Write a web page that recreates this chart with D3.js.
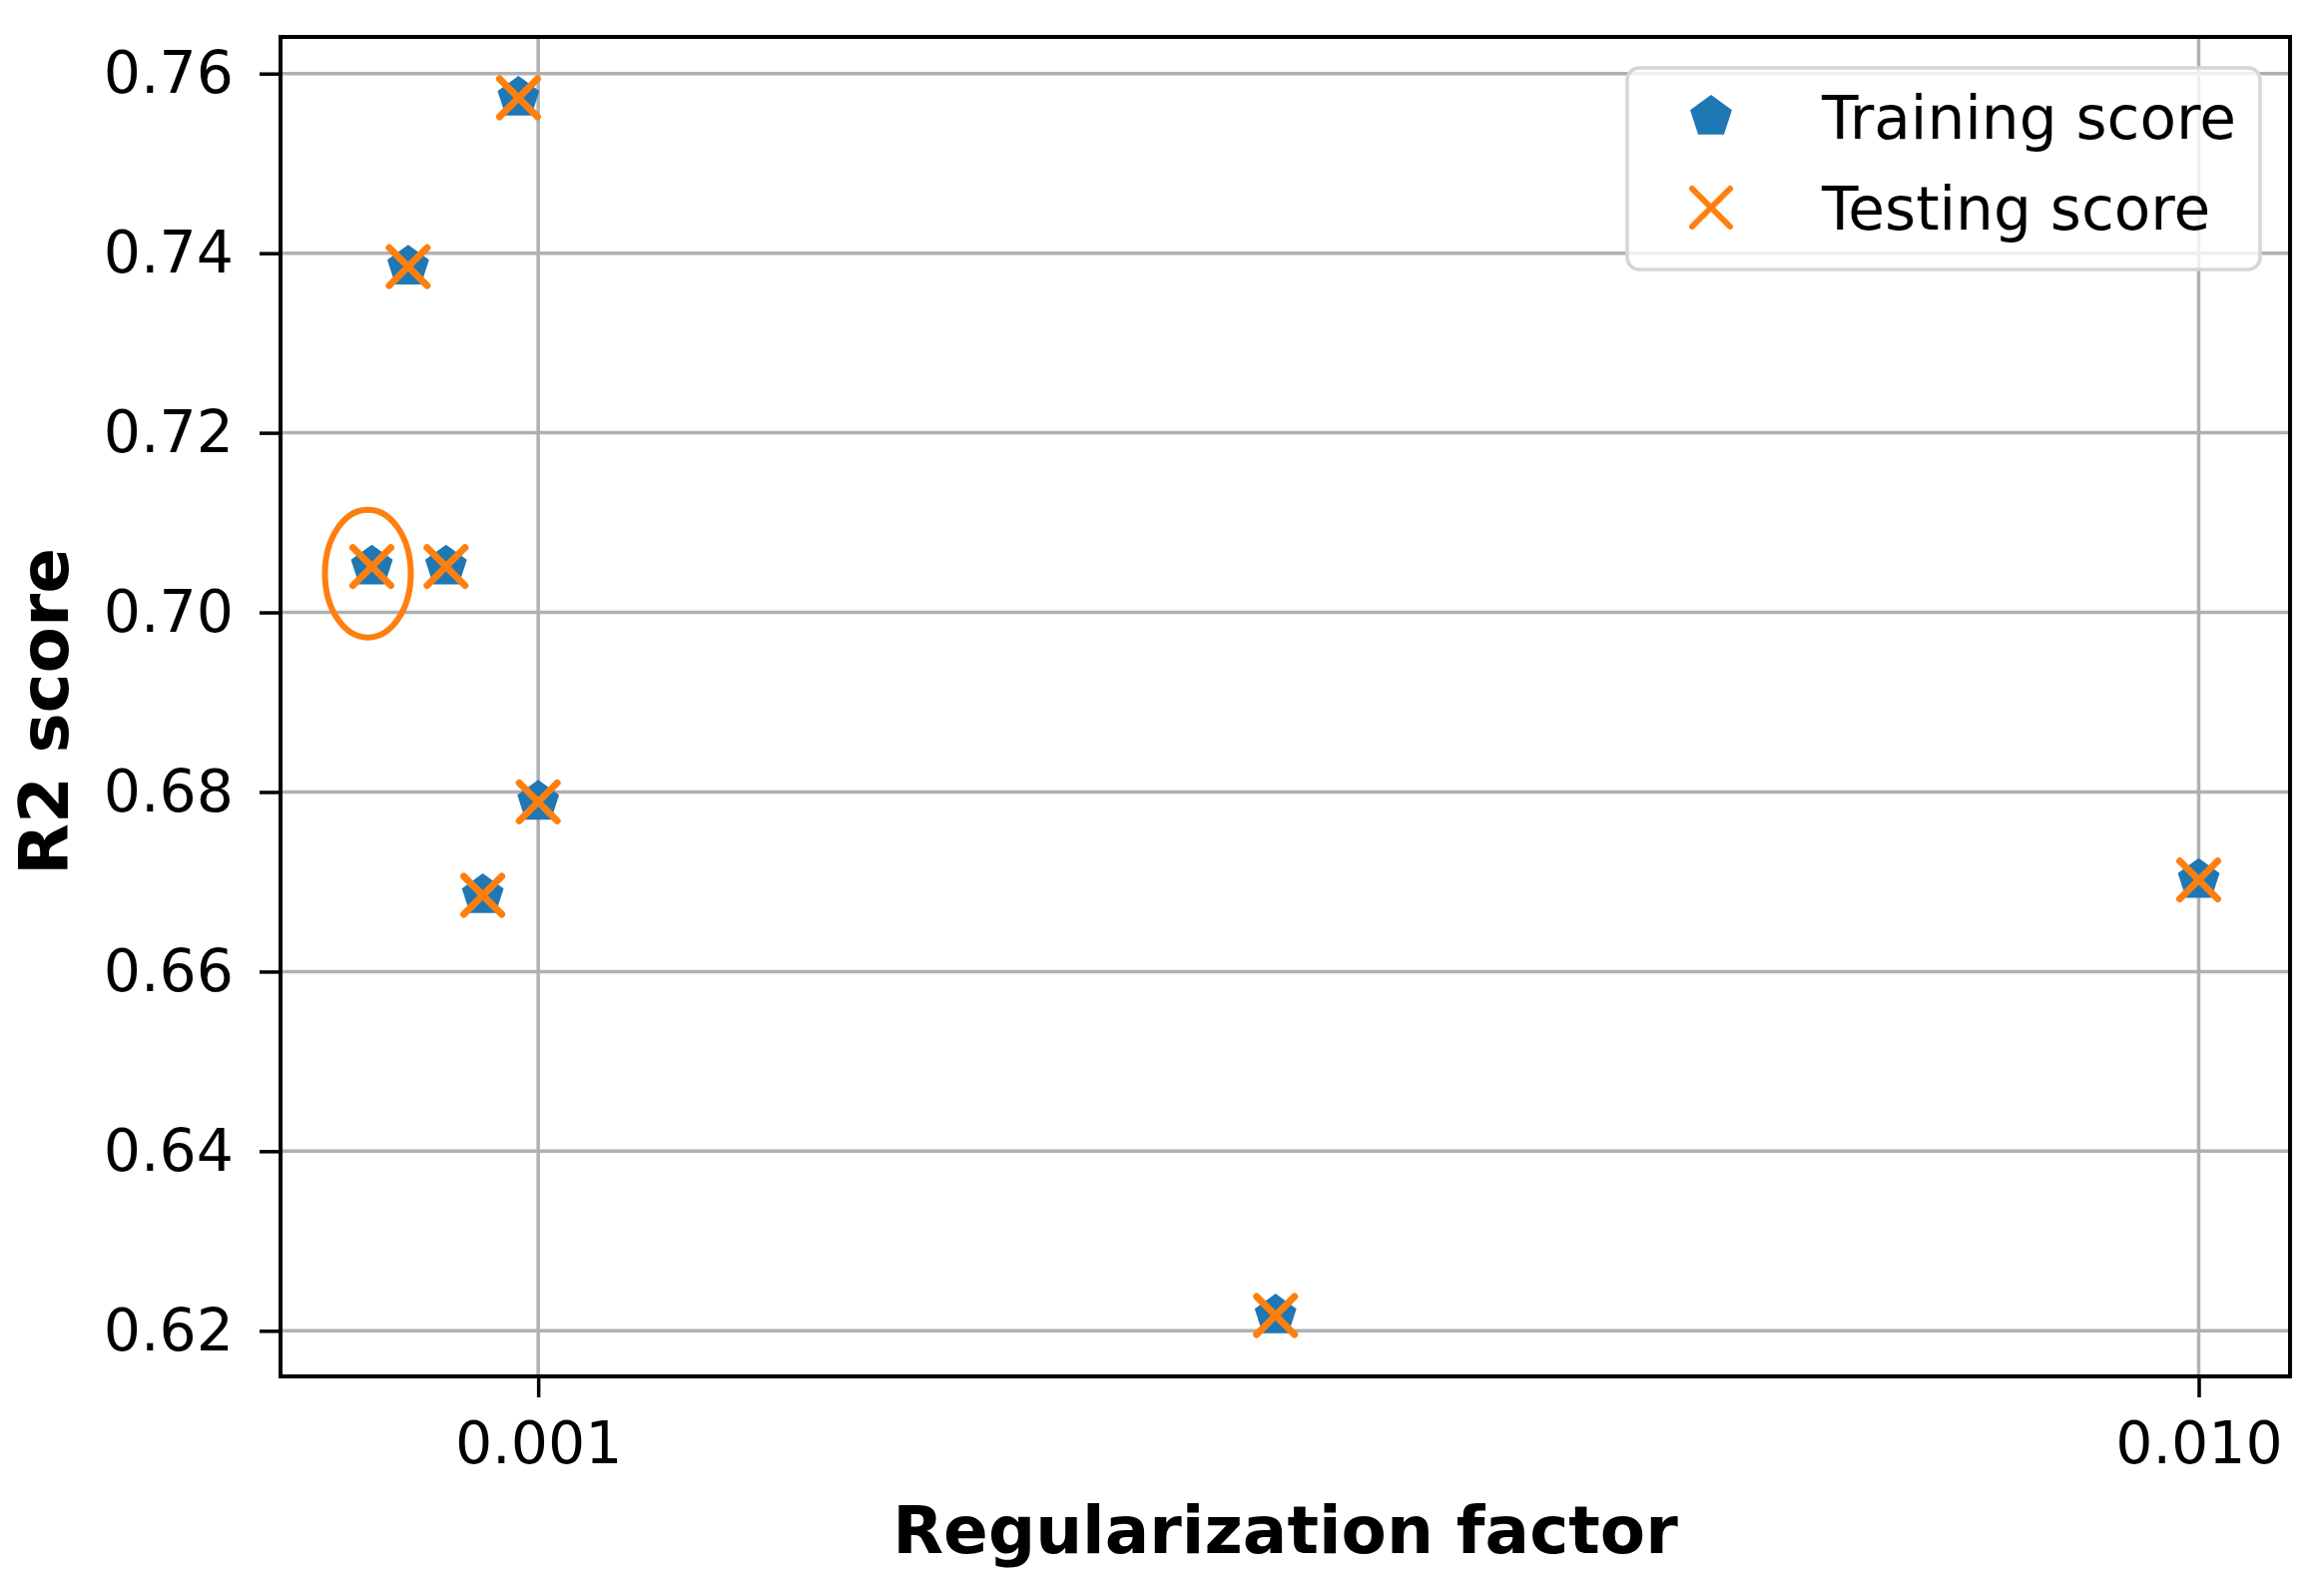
<!DOCTYPE html>
<html>
<head>
<meta charset="utf-8">
<script src="https://cdn.jsdelivr.net/npm/d3@7"></script>
<style>
  html, body { margin: 0; padding: 0; background: #ffffff; }
  svg { display: block; }
  text { font-family: "DejaVu Sans", sans-serif; fill: #000; }
</style>
</head>
<body>
<svg id="chart" width="2328" height="1591"></svg>
<script>
// ---- data ----
const regFactors    = [0.000794, 0.000835, 0.00088, 0.000926, 0.000973, 0.001, 0.00278, 0.01];
const trainingScore = [0.7051, 0.7385, 0.7051, 0.6685, 0.7573, 0.6789, 0.6217, 0.6702];
const testingScore  = [0.7051, 0.7385, 0.7051, 0.6685, 0.7573, 0.6789, 0.6217, 0.6702];
const yTicks = [0.62, 0.64, 0.66, 0.68, 0.70, 0.72, 0.74, 0.76];
const xTicks = [0.001, 0.01];
const xTickLabels = ["0.001", "0.010"];
const seriesNames = ["Training score", "Testing score"];
const highlightIndex = 0;

// ---- layout ----
const W = 2328, H = 1591;
const plot = { left: 281, right: 2294, top: 37, bottom: 1379 };
const blue = "#1f77b4", orange = "#ff7f0e";

const svg = d3.select("#chart");

// matplotlib-like 5% margins
const allY = trainingScore.concat(testingScore);
const yMin = d3.min(allY), yMax = d3.max(allY);
const yPad = (yMax - yMin) * 0.05;
const lxMin = Math.log10(d3.min(regFactors)), lxMax = Math.log10(d3.max(regFactors));
const xPad = (lxMax - lxMin) * 0.05;

const x = d3.scaleLog()
  .domain([Math.pow(10, lxMin - xPad), Math.pow(10, lxMax + xPad)])
  .range([plot.left, plot.right]);
const y = d3.scaleLinear()
  .domain([yMin - yPad, yMax + yPad])
  .range([plot.bottom, plot.top]);

// ---- grid ----
const grid = svg.append("g");
grid.selectAll("line.gy").data(yTicks).enter().append("line")
  .attr("x1", plot.left).attr("x2", plot.right)
  .attr("y1", d => y(d)).attr("y2", d => y(d))
  .attr("stroke", "#b0b0b0").attr("stroke-width", 3.5);
grid.selectAll("line.gx").data(xTicks).enter().append("line")
  .attr("y1", plot.top).attr("y2", plot.bottom)
  .attr("x1", d => x(d)).attr("x2", d => x(d))
  .attr("stroke", "#b0b0b0").attr("stroke-width", 3.5);

// ---- axes ----
const yAxis = d3.axisLeft(y).tickValues(yTicks).tickFormat(d3.format(".2f"))
  .tickSize(21).tickPadding(26);
const xAxis = d3.axisBottom(x).tickValues(xTicks)
  .tickFormat((d, i) => xTickLabels[i]).tickSize(21).tickPadding(24);

const gy = svg.append("g").attr("transform", `translate(${plot.left},0)`).call(yAxis);
const gx = svg.append("g").attr("transform", `translate(0,${plot.bottom})`).call(xAxis);
[gx, gy].forEach(g => {
  g.select(".domain").remove();
  g.selectAll(".tick line").attr("stroke", "#000").attr("stroke-width", 3.5);
  g.selectAll(".tick text").style("font-family", "DejaVu Sans").style("font-size", "58.5px").attr("fill", "#000");
});

// ---- markers ----
function pentagonPath(R) {
  const pts = [];
  for (let k = 0; k < 5; k++) {
    const a = -Math.PI / 2 + k * 2 * Math.PI / 5;
    pts.push([R * Math.cos(a), R * Math.sin(a)]);
  }
  return "M" + pts.map(p => p[0].toFixed(2) + "," + p[1].toFixed(2)).join("L") + "Z";
}
const pent = pentagonPath(22);
const xs = 19;
const crossPath = `M${-xs},${-xs}L${xs},${xs}M${-xs},${xs}L${xs},${-xs}`;

const pts = svg.append("g");
pts.selectAll("path.train").data(regFactors).enter().append("path")
  .attr("d", pent)
  .attr("transform", (d, i) => `translate(${x(d)},${y(trainingScore[i])})`)
  .attr("fill", blue);
pts.selectAll("path.test").data(regFactors).enter().append("path")
  .attr("d", crossPath)
  .attr("transform", (d, i) => `translate(${x(d)},${y(testingScore[i])})`)
  .attr("fill", "none").attr("stroke", orange).attr("stroke-width", 7).attr("stroke-linecap", "round");

// highlight ellipse
svg.append("ellipse")
  .attr("cx", x(regFactors[highlightIndex]) - 4)
  .attr("cy", y(trainingScore[highlightIndex]) + 7)
  .attr("rx", 43).attr("ry", 64)
  .attr("fill", "none").attr("stroke", orange).attr("stroke-width", 6);

// ---- spines ----
svg.append("rect")
  .attr("x", plot.left).attr("y", plot.top)
  .attr("width", plot.right - plot.left).attr("height", plot.bottom - plot.top)
  .attr("fill", "none").attr("stroke", "#000").attr("stroke-width", 4);

// ---- legend ----
const lg = svg.append("g").attr("transform", "translate(1630,68)");
lg.append("rect").attr("x", 0).attr("y", 0).attr("width", 634).attr("height", 202)
  .attr("rx", 12).attr("ry", 12)
  .attr("fill", "#ffffff").attr("fill-opacity", 0.8)
  .attr("stroke", "#d6d6d6").attr("stroke-width", 3.5);
const rowY = [49, 140];
lg.append("path").attr("d", pent).attr("transform", `translate(84,${rowY[0]})`).attr("fill", blue);
lg.append("path").attr("d", crossPath).attr("transform", `translate(84,${rowY[1]})`)
  .attr("fill", "none").attr("stroke", orange).attr("stroke-width", 6).attr("stroke-linecap", "round");
lg.selectAll("text.lab").data(seriesNames).enter().append("text")
  .attr("x", 195).attr("y", (d, i) => rowY[i] + 22)
  .style("font-size", "59.7px")
  .text(d => d);

// ---- axis titles ----
svg.append("text")
  .attr("x", (plot.left + plot.right) / 2).attr("y", 1556)
  .attr("text-anchor", "middle")
  .style("font-size", "66px").style("font-weight", "bold")
  .text("Regularization factor");
svg.append("text")
  .attr("transform", `translate(68,${(plot.top + plot.bottom) / 2 + 5}) rotate(-90)`)
  .attr("text-anchor", "middle")
  .style("font-size", "67.5px").style("font-weight", "bold")
  .text("R2 score");
</script>
</body>
</html>
